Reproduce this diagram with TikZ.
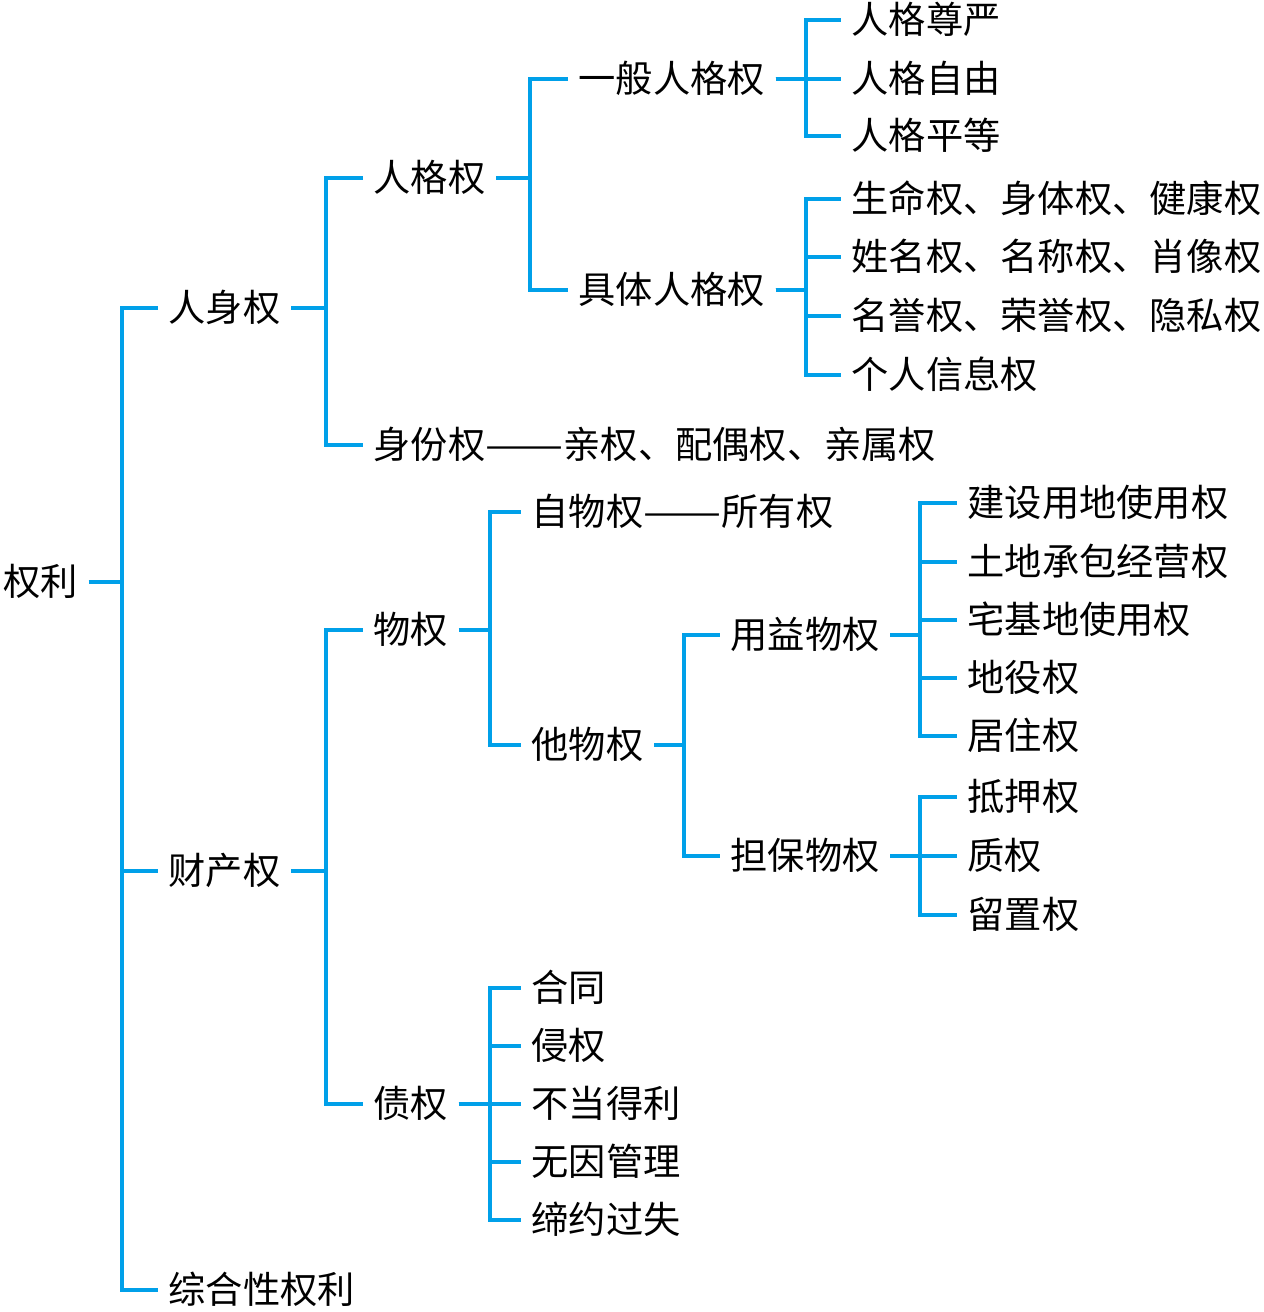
\documentclass[tikz,border=0pt]{standalone}
\usepackage{graphicx}
\usepackage{fontspec}
\newfontfamily\cjk{Noto Sans CJK SC}
\definecolor{linkblue}{RGB}{0,160,233}
\newcommand{\longdash}{\scalebox{1.25}[1]{——}}
\tikzset{
  item/.style={anchor=west,inner xsep=0.1cm,inner ysep=0pt,
    text height=0.83em,text depth=0.07em,
    font=\cjk\fontsize{10.6pt}{12pt}\selectfont},
  link/.style={draw=linkblue,line width=0.9pt}
}
\begin{document}
\begin{tikzpicture}
  \useasboundingbox (0,0) rectangle (12.64,-13.12);

  % first levels
  \node[item] (ql) at (-0.07,-5.82) {权利};
  \node[item] (rs) at (1.58,-3.08) {人身权};
  \node[item] (cc) at (1.58,-8.71) {财产权};
  \node[item] (zh) at (1.58,-12.90) {综合性权利};

  \node[item] (rg) at (3.63,-1.78) {人格权};
  \node[item] (sf) at (3.63,-4.45) {身份权\longdash 亲权、配偶权、亲属权};
  \node[item] (wq) at (3.63,-6.30) {物权};
  \node[item] (zq) at (3.63,-11.04) {债权};

  \node[item] (yb) at (5.68,-0.79) {一般人格权};
  \node[item] (jt) at (5.68,-2.90) {具体人格权};
  \node[item] (zw) at (5.21,-5.12) {自物权\longdash 所有权};
  \node[item] (tw) at (5.21,-7.45) {他物权};

  \node[item] (yy) at (7.20,-6.35) {用益物权};
  \node[item] (db) at (7.20,-8.56) {担保物权};

  % leaves
  \foreach \t/\y [count=\i] in {人格尊严/0.20,人格自由/0.79,人格平等/1.36}
    \node[item] (yb\i) at (8.41,-\y) {\t};
  \foreach \t/\y [count=\i] in {生命权、身体权、健康权/1.99,姓名权、名称权、肖像权/2.57,
      名誉权、荣誉权、隐私权/3.16,个人信息权/3.75}
    \node[item] (jt\i) at (8.41,-\y) {\t};
  \foreach \t/\y [count=\i] in {建设用地使用权/5.03,土地承包经营权/5.62,宅基地使用权/6.20,
      地役权/6.78,居住权/7.36}
    \node[item] (yy\i) at (9.57,-\y) {\t};
  \foreach \t/\y [count=\i] in {抵押权/7.97,质权/8.56,留置权/9.15}
    \node[item] (db\i) at (9.57,-\y) {\t};
  \foreach \t/\y [count=\i] in {合同/9.88,侵权/10.46,不当得利/11.04,无因管理/11.62,缔约过失/12.20}
    \node[item] (zq\i) at (5.21,-\y) {\t};

  % connectors
  \foreach \c in {rs,cc,zh}
    \draw[link] (ql.east) -| ([xshift=-3.6mm]\c.west) -- (\c.west);
  \foreach \c in {rg,sf}
    \draw[link] (rs.east) -| ([xshift=-3.7mm]\c.west) -- (\c.west);
  \foreach \c in {wq,zq}
    \draw[link] (cc.east) -| ([xshift=-3.7mm]\c.west) -- (\c.west);
  \foreach \c in {yb,jt}
    \draw[link] (rg.east) -| ([xshift=-3.8mm]\c.west) -- (\c.west);
  \foreach \c in {zw,tw}
    \draw[link] (wq.east) -| ([xshift=-3.1mm]\c.west) -- (\c.west);
  \foreach \c in {yy,db}
    \draw[link] (tw.east) -| ([xshift=-3.6mm]\c.west) -- (\c.west);
  \foreach \i in {1,2,3}
    \draw[link] (yb.east) -| ([xshift=-3.5mm]yb\i.west) -- (yb\i.west);
  \foreach \i in {1,...,4}
    \draw[link] (jt.east) -| ([xshift=-3.5mm]jt\i.west) -- (jt\i.west);
  \foreach \i in {1,...,5}
    \draw[link] (yy.east) -| ([xshift=-3.7mm]yy\i.west) -- (yy\i.west);
  \foreach \i in {1,2,3}
    \draw[link] (db.east) -| ([xshift=-3.7mm]db\i.west) -- (db\i.west);
  \foreach \i in {1,...,5}
    \draw[link] (zq.east) -| ([xshift=-3.1mm]zq\i.west) -- (zq\i.west);
\end{tikzpicture}
\end{document}
